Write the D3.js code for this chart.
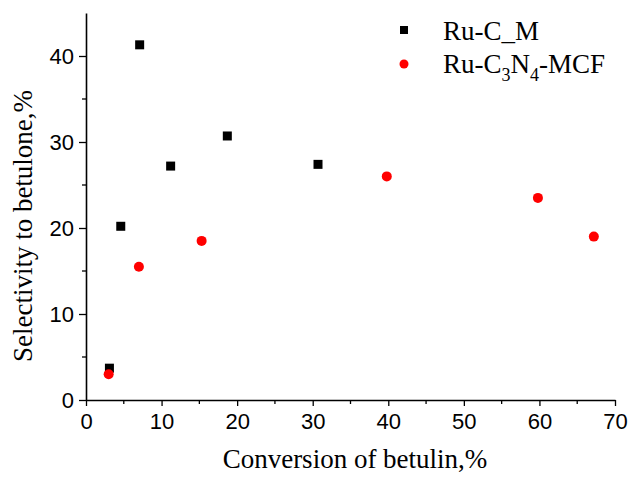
<!DOCTYPE html>
<html>
<head>
<meta charset="utf-8">
<script src="https://cdn.jsdelivr.net/npm/d3@7"></script>
<style>
  body { margin: 0; background: #fff; }
</style>
</head>
<body>
<script>
// Ru-C_M (black squares)
var ruCmX = [3.1, 4.6, 7.1, 11.2, 18.7, 30.7];
var ruCmY = [3.7, 20.2, 41.3, 27.2, 30.7, 27.4];
// Ru-C3N4-MCF (red circles)
var ruCnX = [3.0, 7.0, 15.3, 39.8, 59.8, 67.2];
var ruCnY = [3.0, 15.5, 18.5, 26.0, 23.5, 19.0];
var xTicks = [0, 10, 20, 30, 40, 50, 60, 70];
var yTicks = [0, 10, 20, 30, 40];

function drawChart() {
    var width = 630, height = 477;

    var svg = d3.select("body").append("svg")
        .attr("width", width)
        .attr("height", height);

    var x = d3.scaleLinear().domain([0, 70]).range([86, 615]);
    var y = d3.scaleLinear().domain([0, 45]).range([400, 400 - 45 * 8.6]);

    //minor ticks
    var g = svg.append("g");
    g.selectAll(".xminor").data(d3.range(5, 70, 10)).join("line")
        .attr("x1", d => x(d)).attr("x2", d => x(d))
        .attr("y1", 400).attr("y2", 404)
        .attr("stroke", "#000").attr("stroke-width", 1.3);
    g.selectAll(".yminor").data(d3.range(5, 45, 10)).join("line")
        .attr("y1", d => y(d)).attr("y2", d => y(d))
        .attr("x1", x(0)).attr("x2", x(0) - 4)
        .attr("stroke", "#000").attr("stroke-width", 1.3);

    var xAxis = svg.append("g")
        .attr("transform", "translate(0,400)")
        .call(d3.axisBottom(x).tickValues(xTicks).tickSize(6).tickSizeOuter(0).tickPadding(7));
    var yAxis = svg.append("g")
        .attr("transform", "translate(" + x(0) + ",0)")
        .call(d3.axisLeft(y).tickValues(yTicks).tickSize(7).tickSizeOuter(0).tickPadding(5));

    [xAxis, yAxis].forEach(function (ax) {
        ax.select(".domain").attr("stroke-width", 1.6);
        ax.selectAll(".tick line").attr("stroke-width", 1.3);
        ax.selectAll("text")
            .attr("font-family", "'Liberation Sans', Arial, sans-serif")
            .attr("font-size", 22).attr("fill", "#000");
    });

    //axis titles
    svg.append("text")
        .attr("x", 355).attr("y", 468)
        .attr("text-anchor", "middle")
        .attr("font-family", "'Liberation Serif', 'Times New Roman', serif")
        .attr("font-size", 27)
        .text("Conversion of betulin,%");
    svg.append("text")
        .attr("transform", "translate(32,226) rotate(-90)")
        .attr("text-anchor", "middle")
        .attr("font-family", "'Liberation Serif', 'Times New Roman', serif")
        .attr("font-size", 27)
        .text("Selectivity to betulone,%");

    //points
    var sq = 9;
    svg.selectAll(".sq").data(d3.zip(ruCmX, ruCmY)).join("rect")
        .attr("x", d => x(d[0]) - sq / 2)
        .attr("y", d => y(d[1]) - sq / 2)
        .attr("width", sq).attr("height", sq)
        .attr("fill", "#000");
    svg.selectAll(".ci").data(d3.zip(ruCnX, ruCnY)).join("circle")
        .attr("cx", d => x(d[0]))
        .attr("cy", d => y(d[1]))
        .attr("r", 5)
        .attr("fill", "#ff0000");

    //legend
    var leg = svg.append("g")
        .attr("font-family", "'Liberation Serif', 'Times New Roman', serif")
        .attr("font-size", 27);
    leg.append("rect").attr("x", 400).attr("y", 26).attr("width", 8).attr("height", 8).attr("fill", "#000");
    leg.append("text").attr("x", 443).attr("y", 40).text("Ru-C_M");
    leg.append("circle").attr("cx", 404).attr("cy", 64).attr("r", 4.5).attr("fill", "#ff0000");
    var t = leg.append("text").attr("x", 443).attr("y", 73);
    t.append("tspan").text("Ru-C");
    t.append("tspan").attr("font-size", 18).attr("dy", 8).text("3");
    t.append("tspan").attr("dy", -8).text("N");
    t.append("tspan").attr("font-size", 18).attr("dy", 8).text("4");
    t.append("tspan").attr("dy", -8).text("-MCF");
}

window.onload = drawChart();
</script>
</body>
</html>
